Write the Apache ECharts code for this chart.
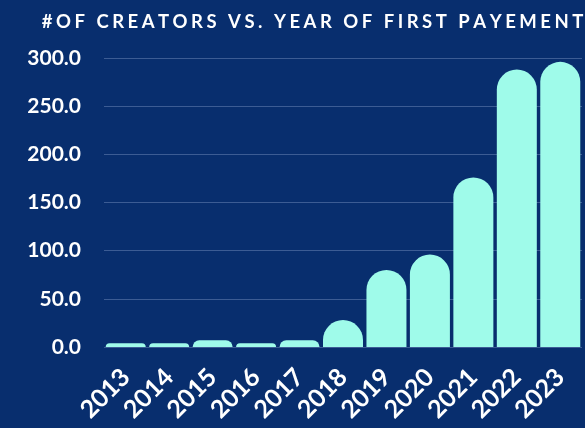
<!DOCTYPE html>
<html>
<head>
<meta charset="utf-8">
<script src="https://cdn.jsdelivr.net/npm/echarts@6/dist/echarts.min.js"></script>
<style>
    html, body { margin: 0; padding: 0; background: #082e6e; }
    #chart { width: 585px; height: 428px; }
</style>
</head>
<body>
<div id="chart"></div>
<script>
var titleText = '#OF CREATORS VS. YEAR OF FIRST PAYEMENT';
var years = ['2013', '2014', '2015', '2016', '2017', '2018', '2019', '2020', '2021', '2022', '2023'];
var creators = [4, 4, 7, 4, 7, 28, 80, 96, 176, 288, 296];
var yTicks = [0, 50, 100, 150, 200, 250, 300];

// spaced-out title: every letter is its own rich token with a bit of padding
function spaced(str) {
    return str.split('').map(function (ch) { return '{c|' + ch + '}'; }).join('');
}

var chart = echarts.init(document.getElementById('chart'));
var option = {
    backgroundColor: '#082e6e',
    title: {
        text: spaced(titleText),
        left: 35,
        top: 8,
        textStyle: {
            rich: {
                c: {
                    color: '#ffffff',
                    fontFamily: 'Lato',
                    fontWeight: 'bold',
                    fontSize: 18.5,
                    padding: [0, 1.75, 0, 1.75]
                }
            }
        }
    },
    grid: {
        left: 104,
        right: 3,
        top: 58,
        bottom: 81
    },
    xAxis: {
        type: 'category',
        data: years,
        axisLine: { show: false },
        axisTick: { show: false },
        axisLabel: {
            rotate: 45,
            interval: 0,
            margin: 26,
            color: '#ffffff',
            fontFamily: 'Lato',
            fontWeight: 'bold',
            fontSize: 25
        }
    },
    yAxis: {
        type: 'value',
        min: yTicks[0],
        max: yTicks[yTicks.length - 1],
        interval: 50,
        axisLine: { show: false },
        axisTick: { show: false },
        splitLine: { lineStyle: { color: '#3c5c94', width: 1 } },
        axisLabel: {
            margin: 23,
            color: '#ffffff',
            fontFamily: 'Lato',
            fontWeight: 'bold',
            fontSize: 21,
            formatter: function (v) { return v.toFixed(1); }
        }
    },
    series: [{
        type: 'bar',
        data: creators,
        barWidth: 40,
        itemStyle: {
            color: '#9ffbea',
            borderRadius: [20, 20, 0, 0]
        }
    }]
};
chart.setOption(option);
</script>
</body>
</html>
